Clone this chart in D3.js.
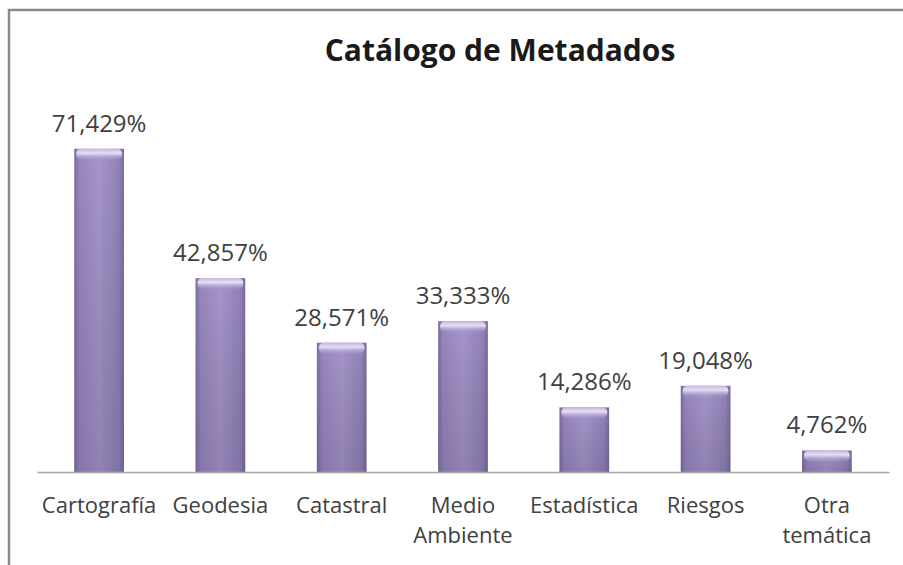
<!DOCTYPE html>
<html>
<head>
<meta charset="utf-8">
<script src="https://cdn.jsdelivr.net/npm/d3@7"></script>
<style>
  body { margin: 0; background: #ffffff; }
  svg { display: block; }
</style>
</head>
<body>
<div id="chart"></div>
<script>
const categories = ["Cartografía", "Geodesia", "Catastral", "Medio Ambiente", "Estadística", "Riesgos", "Otra temática"];
const values = [71.429, 42.857, 28.571, 33.333, 14.286, 19.048, 4.762];
const valueLabels = ["71,429%", "42,857%", "28,571%", "33,333%", "14,286%", "19,048%", "4,762%"];

const W = 903, H = 565;
const font = "'Open Sans', sans-serif";

const svg = d3.select("#chart").append("svg")
    .attr("width", W)
    .attr("height", H);

// gradients for the bevelled bars
const defs = svg.append("defs");
const body = defs.append("linearGradient").attr("id", "barBody")
    .attr("x1", 0).attr("x2", 1).attr("y1", 0).attr("y2", 0);
body.append("stop").attr("offset", "0%").attr("stop-color", "#7c6d9e");
body.append("stop").attr("offset", "10%").attr("stop-color", "#9786bd");
body.append("stop").attr("offset", "50%").attr("stop-color", "#a696ca");
body.append("stop").attr("offset", "90%").attr("stop-color", "#9282b8");
body.append("stop").attr("offset", "100%").attr("stop-color", "#796a9b");

const shade = defs.append("linearGradient").attr("id", "barShade")
    .attr("x1", 0).attr("x2", 0).attr("y1", 0).attr("y2", 1);
shade.append("stop").attr("offset", "0%").attr("stop-color", "#000").attr("stop-opacity", 0);
shade.append("stop").attr("offset", "100%").attr("stop-color", "#2a1f45").attr("stop-opacity", 0.16);

const bevel = defs.append("linearGradient").attr("id", "barBevel")
    .attr("x1", 0).attr("x2", 0).attr("y1", 0).attr("y2", 1);
bevel.append("stop").attr("offset", "0%").attr("stop-color", "#c4b7de");
bevel.append("stop").attr("offset", "40%").attr("stop-color", "#e6def4");
bevel.append("stop").attr("offset", "100%").attr("stop-color", "#a899cc").attr("stop-opacity", 0.2);

// chart frame
svg.append("rect")
    .attr("x", 9).attr("y", 10)
    .attr("width", W + 20).attr("height", H + 20)
    .attr("fill", "#ffffff")
    .attr("stroke", "#8a8a8a")
    .attr("stroke-width", 2.5);

// title
svg.append("text")
    .attr("x", 500)
    .attr("y", 61)
    .attr("text-anchor", "middle")
    .attr("font-family", font)
    .attr("font-weight", "bold")
    .attr("font-size", 30)
    .attr("fill", "#1a1a1a")
    .text("Catálogo de Metadados");

// scales
const x = d3.scaleBand()
    .domain(categories)
    .range([37, 889])
    .paddingInner(0.59)
    .paddingOuter(0.307);

const y = d3.scaleLinear()
    .domain([0, 80])
    .range([472, 110]);

// bars
const bars = svg.append("g").selectAll("g")
    .data(values)
    .join("g")
    .attr("transform", (d, i) => "translate(" + x(categories[i]) + ",0)");

const bw = x.bandwidth();

bars.append("rect")
    .attr("x", 0)
    .attr("y", d => y(d))
    .attr("width", bw)
    .attr("height", d => y(0) - y(d))
    .attr("fill", "url(#barBody)");

bars.append("rect")
    .attr("x", 0)
    .attr("y", d => y(d))
    .attr("width", bw)
    .attr("height", d => y(0) - y(d))
    .attr("fill", "url(#barShade)");

bars.append("rect")
    .attr("x", 2)
    .attr("y", d => y(d))
    .attr("width", bw - 4)
    .attr("height", 11)
    .attr("rx", 5)
    .attr("fill", "url(#barBevel)");

// value labels
bars.append("text")
    .attr("x", bw / 2)
    .attr("y", d => y(d) - 17)
    .attr("text-anchor", "middle")
    .attr("font-family", font)
    .attr("font-size", 24)
    .attr("fill", "#404040")
    .text((d, i) => valueLabels[i]);

// x axis
const xAxis = svg.append("g")
    .attr("transform", "translate(0," + y(0) + ")")
    .call(d3.axisBottom(x).tickSize(0).tickSizeOuter(0));

xAxis.select(".domain")
    .attr("stroke", "#a6a6a6")
    .attr("stroke-width", 1.5);

xAxis.selectAll(".tick text")
    .attr("font-family", font)
    .attr("font-size", 22)
    .attr("fill", "#404040")
    .attr("y", 0)
    .attr("dy", null)
    .each(function(d) {
        const t = d3.select(this);
        const words = d.split(" ");
        t.text(null);
        words.forEach((w, k) => {
            t.append("tspan")
                .attr("x", 0)
                .attr("y", 41 + k * 30)
                .text(w);
        });
    });
</script>
</body>
</html>
